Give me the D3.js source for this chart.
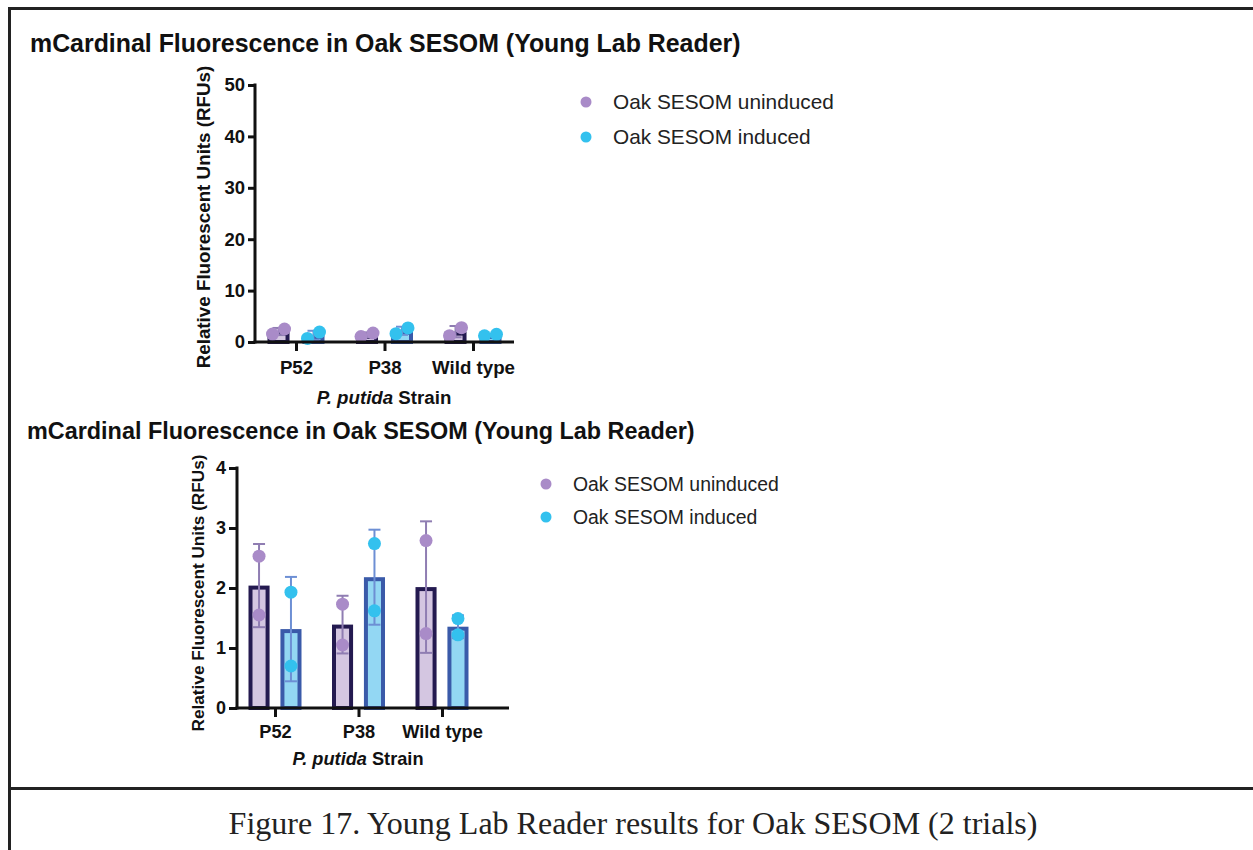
<!DOCTYPE html>
<html>
<head>
<meta charset="utf-8">
<script src="https://cdn.jsdelivr.net/npm/d3@7"></script>
<style>
  html, body { margin: 0; padding: 0; background: #fff; }
  svg { display: block; }
</style>
</head>
<body>
<svg id="fig" width="1253" height="850"></svg>
<script>
// ---------- DATA ----------
const categories = ["P52", "P38", "Wild type"];
const seriesNames = ["Oak SESOM uninduced", "Oak SESOM induced"];
// two trials per strain
const uninducedTrials = [[2.53, 1.55], [1.73, 1.05], [2.79, 1.24]];
const inducedTrials   = [[1.93, 0.70], [2.74, 1.62], [1.49, 1.22]];
const topTicks = [0, 10, 20, 30, 40, 50];
const bottomTicks = [0, 1, 2, 3, 4];
const chartTitle = "mCardinal Fluorescence in Oak SESOM (Young Lab Reader)";
const yLabel = "Relative Fluorescent Units (RFUs)";
const caption = "Figure 17. Young Lab Reader results for Oak SESOM (2 trials)";

// ---------- STYLE ----------
const barFill   = ["#d4c6e1", "#93d7f3"];
const barStroke = ["#241a50", "#3a5aa9"];
const errColor  = ["#8f7db2", "#6d8fd4"];
const dotColor  = ["#a98bc8", "#33c1ee"];
const sans = "'Liberation Sans', Arial, sans-serif";

const svg = d3.select("#fig");

// frame
const frame = svg.append("g").attr("stroke", "#222").attr("stroke-width", 3).attr("fill", "none");
frame.append("line").attr("x1", 8).attr("x2", 1253).attr("y1", 8.5).attr("y2", 8.5);
frame.append("line").attr("x1", 9.5).attr("x2", 9.5).attr("y1", 7).attr("y2", 850);
frame.append("line").attr("x1", 8).attr("x2", 1253).attr("y1", 788.5).attr("y2", 788.5);

svg.append("text")
  .attr("x", 633).attr("y", 834)
  .attr("text-anchor", "middle")
  .attr("font-family", "'Liberation Serif', 'Times New Roman', serif")
  .attr("font-size", 32)
  .attr("fill", "#222")
  .text(caption);

const series = [uninducedTrials, inducedTrials];

function drawChart(cfg) {
  const g = svg.append("g");
  // title
  g.append("text").attr("x", cfg.titleX).attr("y", cfg.titleY)
    .attr("font-family", sans).attr("font-weight", "bold")
    .attr("font-size", cfg.titleSize).attr("fill", "#111").text(chartTitle);

  const y = d3.scaleLinear().domain([0, cfg.yMax]).range([cfg.y0, cfg.y1]);
  const x0 = d3.scalePoint().domain(categories).range([cfg.c0, cfg.c2]);
  const x1 = d3.scaleBand().domain(seriesNames).range([-cfg.half, cfg.half])
    .paddingInner(cfg.padIn).paddingOuter(0);
  const bw = x1.bandwidth();

  // bars
  seriesNames.forEach((s, si) => {
    const data = categories.map((c, ci) => {
      const vals = series[si][ci];
      return { c, vals, mean: d3.mean(vals), sd: d3.deviation(vals) };
    });
    const cx = d => x0(d.c) + x1(s) + bw / 2;
    g.append("g").selectAll("rect").data(data).join("rect")
      .attr("x", d => x0(d.c) + x1(s) + cfg.barStroke / 2)
      .attr("width", bw - cfg.barStroke)
      .attr("y", d => y(d.mean) + cfg.barStroke / 2)
      .attr("height", d => Math.max(0, y(0) - y(d.mean) - cfg.barStroke / 2))
      .attr("fill", barFill[si])
      .attr("stroke", barStroke[si])
      .attr("stroke-width", cfg.barStroke);
    // error bars
    const eg = g.append("g").attr("stroke", errColor[si]).attr("stroke-width", cfg.errW).attr("fill", "none");
    data.forEach(d => {
      const xc = cx(d);
      eg.append("line").attr("x1", xc).attr("x2", xc)
        .attr("y1", y(d.mean - d.sd)).attr("y2", y(d.mean + d.sd));
      [d.mean - d.sd, d.mean + d.sd].forEach(v => {
        eg.append("line").attr("x1", xc - cfg.cap).attr("x2", xc + cfg.cap)
          .attr("y1", y(v)).attr("y2", y(v));
      });
    });
    // points
    data.forEach(d => {
      const sorted = d.vals.slice().sort(d3.ascending);
      g.append("g").selectAll("circle").data(sorted).join("circle")
        .attr("cx", (v, i) => cx(d) + (i === 0 ? -cfg.jitter : cfg.jitter))
        .attr("cy", v => y(v))
        .attr("r", cfg.dotR)
        .attr("fill", dotColor[si]);
    });
  });

  // y axis
  const ya = g.append("g").attr("transform", `translate(${cfg.axisX},0)`)
    .call(d3.axisLeft(y).tickValues(cfg.ticks).tickFormat(d3.format("d"))
      .tickSize(cfg.yTick).tickSizeOuter(0).tickPadding(cfg.yPad));
  ya.select(".domain").remove();
  ya.selectAll("line").attr("stroke", "#111").attr("stroke-width", 3);
  ya.selectAll("text").attr("font-family", sans).attr("font-weight", "bold")
    .attr("font-size", cfg.tickSize).attr("fill", "#111");
  g.append("line").attr("x1", cfg.axisX).attr("x2", cfg.axisX)
    .attr("y1", y(cfg.yMax) - 1.5).attr("y2", y(0) + 1.5)
    .attr("stroke", "#111").attr("stroke-width", 3);

  // x axis
  const xa = g.append("g").attr("transform", `translate(0,${y(0)})`)
    .call(d3.axisBottom(x0).tickSize(cfg.xTick).tickSizeOuter(0).tickPadding(cfg.xPad));
  xa.select(".domain").remove();
  xa.selectAll("line").attr("stroke", "#111").attr("stroke-width", 3);
  xa.selectAll("text").attr("font-family", sans).attr("font-weight", "bold")
    .attr("font-size", cfg.xLabSize).attr("fill", "#111");
  g.append("line").attr("x1", cfg.axisX - 1.5).attr("x2", cfg.xEnd)
    .attr("y1", y(0)).attr("y2", y(0))
    .attr("stroke", "#111").attr("stroke-width", 3);

  // x title
  const xt = g.append("text").attr("x", cfg.xTitleX).attr("y", cfg.xTitleY)
    .attr("text-anchor", "middle").attr("font-family", sans).attr("font-weight", "bold")
    .attr("font-size", cfg.xLabSize).attr("fill", "#111");
  xt.append("tspan").attr("font-style", "italic").text("P. putida");
  xt.append("tspan").text(" Strain");

  // y title
  g.append("text")
    .attr("transform", `translate(${cfg.yTitleX},${cfg.yTitleY}) rotate(-90)`)
    .attr("text-anchor", "middle").attr("font-family", sans).attr("font-weight", "bold")
    .attr("font-size", cfg.yTitleSize).attr("fill", "#111").text(yLabel);

  // legend
  seriesNames.forEach((s, si) => {
    g.append("circle").attr("cx", cfg.legX).attr("cy", cfg.legY + si * cfg.legStep)
      .attr("r", cfg.legR).attr("fill", dotColor[si]);
    g.append("text").attr("x", cfg.legTextX).attr("y", cfg.legY + si * cfg.legStep)
      .attr("dy", "0.35em").attr("font-family", sans).attr("font-size", cfg.legSize)
      .attr("fill", "#222").text(s);
  });
}

// top chart
drawChart({
  titleX: 30, titleY: 52, titleSize: 24.9,
  yMax: 50, y0: 342, y1: 85, ticks: topTicks,
  c0: 296, c2: 473, half: 28.5, padIn: 0.37,
  axisX: 255, xEnd: 514, barStroke: 4, errW: 2, cap: 6, dotR: 6.5, jitter: 6,
  yTick: 7, yPad: 3, tickSize: 18.5, xTick: 9, xPad: 10, xLabSize: 18.7,
  xTitleX: 384, xTitleY: 404, yTitleX: 210, yTitleY: 217, yTitleSize: 18.8,
  legX: 586, legY: 102, legStep: 35, legR: 5.5, legTextX: 613, legSize: 20.8
});

// bottom chart
drawChart({
  titleX: 27, titleY: 439, titleSize: 23.4,
  yMax: 4, y0: 708, y1: 468, ticks: bottomTicks,
  c0: 275, c2: 442, half: 26.5, padIn: 0.34,
  axisX: 237, xEnd: 509, barStroke: 4, errW: 2, cap: 6, dotR: 6.5, jitter: 0,
  yTick: 8, yPad: 3, tickSize: 18, xTick: 9, xPad: 8, xLabSize: 18.2,
  xTitleX: 358, xTitleY: 765, yTitleX: 204, yTitleY: 593, yTitleSize: 17.2,
  legX: 546, legY: 484, legStep: 33, legR: 5.5, legTextX: 573, legSize: 19.4
});
</script>
</body>
</html>
